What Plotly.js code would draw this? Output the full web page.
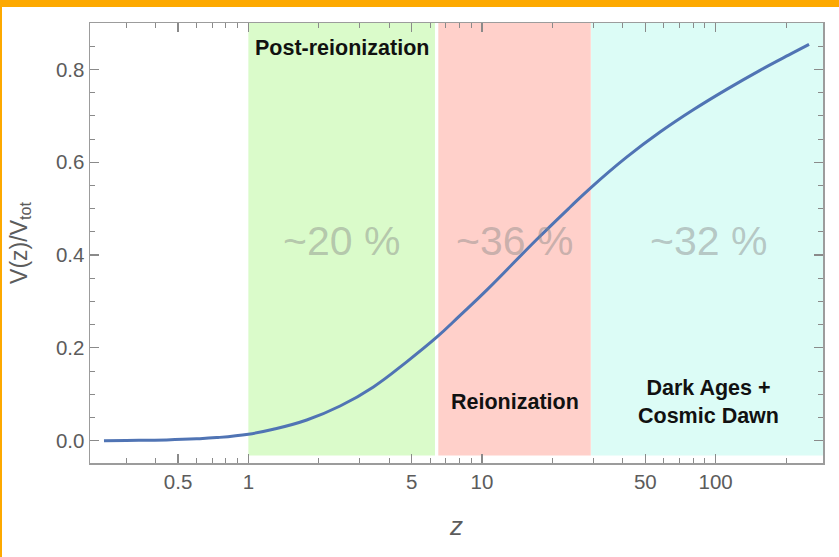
<!DOCTYPE html>
<html>
<head>
<meta charset="utf-8">
<script src="https://cdn.plot.ly/plotly-3.0.1.min.js"></script>
<style>
  html, body { margin: 0; padding: 0; background: #fff; }
  #wrap { position: relative; width: 839px; height: 557px; overflow: hidden; }
  #chart { position: absolute; left: 0; top: 0; width: 839px; height: 557px; }
  .bar-top { position: absolute; left: 0; top: 0; width: 839px; height: 7px; background: #FDA900; z-index: 10; }
  .bar-left { position: absolute; left: 0; top: 0; width: 2px; height: 557px; background: #FDA900; z-index: 10; }
</style>
</head>
<body>
<div id="wrap">
  <div id="chart"></div>
  <div class="bar-top"></div>
  <div class="bar-left"></div>
</div>
<script>
// Curve: redshift z and volume fraction V(z)/Vtot
const zVals = [0.241, 0.3, 0.447, 0.6, 0.732, 1.0, 1.279, 1.778, 2.47, 3.43, 4.76, 6.40, 8.06, 10.5, 17.1, 23.8, 29.5, 41.6, 57.8, 80.2, 111.5, 154.8, 214.8, 251];
const volFrac = [0.0, 0.0006, 0.0018, 0.0040, 0.0067, 0.014, 0.0246, 0.0446, 0.0748, 0.116, 0.170, 0.223, 0.270, 0.325, 0.433, 0.503, 0.547, 0.611, 0.665, 0.713, 0.757, 0.798, 0.836, 0.854];

// Epoch bands (z start, z end), labels, fractions
const regionNames = ["Post-reionization", "Reionization", "Dark Ages +<br>Cosmic Dawn"];
const regionStart = [1.0, 6.5, 29.3];
const regionEnd = [6.29, 29.2, 298];
const regionColors = ["#DAFBCA", "#FFD0CA", "#DCFCF6"];
const regionPercent = ["~20 %", "~36 %", "~32 %"];
const regionLabelY = [0.847, 0.0835, 0.083];
const bandBottom = -0.032;
const bandTop = 0.9;
const percentY = 0.431;

// Axis ticks
const xTickVals = [0.5, 1, 5, 10, 50, 100];
const xTickText = ["0.5", "1", "5", "10", "50", "100"];
const xMinorVals = [0.3, 0.4, 0.6, 0.7, 0.8, 0.9, 2, 3, 4, 6, 7, 8, 9, 20, 30, 40, 60, 70, 80, 90, 200];
const yTickVals = [0.0, 0.2, 0.4, 0.6, 0.8];
const yTickText = ["0.0", "0.2", "0.4", "0.6", "0.8"];

const FONT = "Liberation Sans, Arial, Helvetica, sans-serif";

const traces = [];
regionNames.forEach((n, i) => {
  traces.push({
    type: "scatter", mode: "lines", fill: "toself",
    x: [regionStart[i], regionEnd[i], regionEnd[i], regionStart[i], regionStart[i]],
    y: [bandBottom, bandBottom, bandTop, bandTop, bandBottom],
    fillcolor: regionColors[i], line: {width: 0, color: regionColors[i]},
    hoverinfo: "skip", showlegend: false
  });
});
traces.push({
  type: "scatter", mode: "lines", x: zVals, y: volFrac,
  line: {color: "#5074B4", width: 3, shape: "spline", smoothing: 1.2},
  showlegend: false
});

const annotations = [];
regionNames.forEach((n, i) => {
  const cx = Math.log10(Math.sqrt(regionStart[i] * regionEnd[i]));
  annotations.push({
    x: cx, y: regionLabelY[i], xref: "x", yref: "y", text: "<b>" + n + "</b>",
    showarrow: false, font: {family: FONT, size: 21.5, color: "#111"},
    xanchor: "center", yanchor: "middle"
  });
  annotations.push({
    x: cx, y: percentY, xref: "x", yref: "y", text: regionPercent[i],
    showarrow: false, font: {family: FONT, size: 41, color: "rgba(135,135,135,0.45)"},
    xanchor: "center", yanchor: "middle"
  });
});

const axisCommon = {
  showline: true, linecolor: "#9c9c9c", linewidth: 1.5,
  mirror: "allticks", ticks: "inside", ticklen: 9, tickwidth: 1.2, tickcolor: "#8a8a8a",
  showgrid: false, zeroline: false,
  tickfont: {family: FONT, size: 20.5, color: "#5c5c5c"}
};

const layout = {
  width: 839, height: 557,
  margin: {l: 90, r: 16, t: 23, b: 94},
  paper_bgcolor: "#fff", plot_bgcolor: "#fff",
  annotations: annotations,
  xaxis: Object.assign({}, axisCommon, {
    type: "log", range: [Math.log10(0.21), Math.log10(288)],
    tickmode: "array", tickvals: xTickVals, ticktext: xTickText,
    minor: {tickmode: "array", tickvals: xMinorVals, ticks: "inside", ticklen: 5, tickwidth: 1, tickcolor: "#8a8a8a", showgrid: false},
    title: {text: "<i>z</i>", font: {family: FONT, size: 26, color: "#5c5c5c"}, standoff: 24}
  }),
  yaxis: Object.assign({}, axisCommon, {
    range: [-0.048, 0.9],
    tickmode: "array", tickvals: yTickVals, ticktext: yTickText,
    minor: {dtick: 0.05, ticks: "inside", ticklen: 5, tickwidth: 1, tickcolor: "#8a8a8a", showgrid: false},
    title: {text: "V(z)/V<sub>tot</sub>", font: {family: FONT, size: 23, color: "#5c5c5c"}, standoff: 22}
  })
};

Plotly.newPlot("chart", traces, layout, {displayModeBar: false, staticPlot: true});
</script>
</body>
</html>
